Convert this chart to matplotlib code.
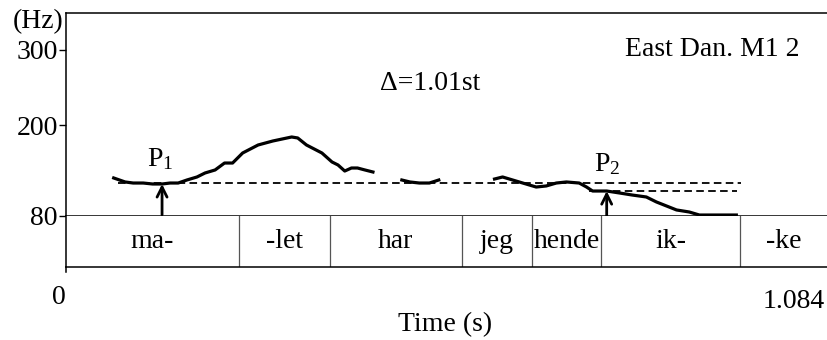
import matplotlib.pyplot as plt

plt.rcParams['font.family'] = ['Liberation Serif', 'DejaVu Serif']
plt.rcParams['mathtext.fontset'] = 'custom'
plt.rcParams['mathtext.rm'] = 'Liberation Serif'
plt.rcParams['mathtext.it'] = 'Liberation Serif:italic'

# F0 contour (time in s, F0 in Hz), three voiced stretches
t1 = [0.071, 0.088, 0.100, 0.115, 0.129, 0.143, 0.155, 0.167, 0.180, 0.195,
      0.207, 0.222, 0.236, 0.248, 0.263, 0.286, 0.308, 0.336, 0.345, 0.358,
      0.381, 0.396, 0.405, 0.415, 0.425, 0.434, 0.445, 0.457]
f1 = [130.4, 125.1, 123.7, 123.7, 122.4, 122.4, 123.7, 123.7, 127.7, 131.7,
      137.0, 141.0, 150.2, 150.2, 163.5, 174.1, 179.4, 184.7, 183.4, 174.1,
      163.5, 151.6, 147.6, 139.6, 143.6, 143.6, 141.0, 138.3]
t2 = [0.500, 0.512, 0.526, 0.541, 0.555]
f2 = [127.7, 125.1, 123.7, 123.7, 127.7]
t3 = [0.638, 0.650, 0.665, 0.680, 0.700, 0.715, 0.730, 0.745, 0.764, 0.775,
      0.784, 0.805, 0.824, 0.843, 0.864, 0.879, 0.894, 0.909, 0.928, 0.943,
      0.962, 0.998]
f3 = [129.0, 131.7, 127.7, 123.7, 118.4, 119.8, 123.7, 125.1, 123.7, 118.4,
      113.1, 113.1, 110.5, 107.8, 105.2, 98.6, 93.3, 88.0, 85.3, 81.3,
      81.3, 81.3]

# reference levels (dashed) and peak markers
p1_level = 123.7
p1_span = [0.077, 1.005]
p2_level = 113.5
p2_span = [0.779, 0.999]
p1_time, p1_f0 = 0.143, 122.4
p2_time, p2_f0 = 0.805, 113.0

# word tier
bounds = [0.0, 0.257, 0.393, 0.589, 0.694, 0.797, 1.004, 1.133]
words = ['ma-', '-let', 'har', 'jeg', 'hende', 'ik-', '-ke']

fs = 20
fig = plt.figure(figsize=(8.27, 3.40), dpi=100)
ax = fig.add_axes([66 / 827, 1 - 216 / 340, 1 - 66 / 827, 203 / 340])
ax2 = fig.add_axes([66 / 827, 1 - 267 / 340, 1 - 66 / 827, 51 / 340], sharex=ax)

for t, f in [(t1, f1), (t2, f2), (t3, f3)]:
    ax.plot(t, f, color='black', lw=2.3, solid_joinstyle='round')

ax.plot(p1_span, [p1_level] * 2, color='black', lw=1.3, ls=(0, (4.2, 2.4)))
ax.plot(p2_span, [p2_level] * 2, color='black', lw=1.3, ls=(0, (4.2, 2.4)))

ax.annotate('', xy=(p1_time, p1_f0), xytext=(p1_time, 81.5),
            arrowprops=dict(arrowstyle='->', lw=2.0, color='black',
                            mutation_scale=18, shrinkA=0, shrinkB=0))
ax.annotate('', xy=(p2_time, p2_f0), xytext=(p2_time, 73.5),
            arrowprops=dict(arrowstyle='->', lw=2.0, color='black',
                            mutation_scale=18, shrinkA=0, shrinkB=0))

ax.text(0.140, 155, 'P$_1$', fontsize=fs, ha='center', va='center')
ax.text(0.806, 149, 'P$_2$', fontsize=fs, ha='center', va='center')
ax.text(0.542, 255, '\u0394=1.01st', fontsize=fs, ha='center', va='center')
ax.text(0.962, 300, 'East Dan. M1 2', fontsize=fs, ha='center', va='center')

ax.set_xlim(bounds[0], bounds[-1])
ax.set_ylim(80, 349)
ax.set_yticks([80, 200, 300])
ax.set_yticklabels(['80', '200', '300'])
ax.tick_params(axis='y', direction='out', length=5, width=1.0, labelsize=fs, pad=1)
ax.tick_params(axis='x', bottom=False, labelbottom=False)
ax.spines['right'].set_visible(False)
for s in ['top', 'left', 'bottom']:
    ax.spines[s].set_linewidth(1.1)
ax.text(-0.003, 0.96, '(Hz)', transform=ax.transAxes, fontsize=fs,
        ha='right', va='center')

# word tier
for b in bounds[1:-1]:
    ax2.axvline(b, color='#555555', lw=0.9)
for w, a, b in zip(words, bounds[:-1], bounds[1:]):
    ax2.text((a + b) / 2, 0.5, w, fontsize=fs, ha='center', va='center')
ax2.set_ylim(0, 1)
ax2.set_yticks([])
ax2.tick_params(axis='x', bottom=False, labelbottom=False)
ax2.spines['right'].set_visible(False)
ax2.spines['top'].set_visible(False)
for s in ['left', 'bottom']:
    ax2.spines[s].set_linewidth(1.1)
ax2.plot([0, 0], [0, -0.1], color='black', lw=1.1, transform=ax2.transAxes,
         clip_on=False)

fig.text(59 / 827, 1 - 298 / 340, '0', fontsize=fs, ha='center', va='center')
fig.text(794 / 827, 1 - 302 / 340, '1.084', fontsize=fs, ha='center', va='center')
fig.text(445 / 827, 1 - 325 / 340, 'Time (s)', fontsize=fs, ha='center', va='center')

fig.savefig('out.png', dpi=100)
